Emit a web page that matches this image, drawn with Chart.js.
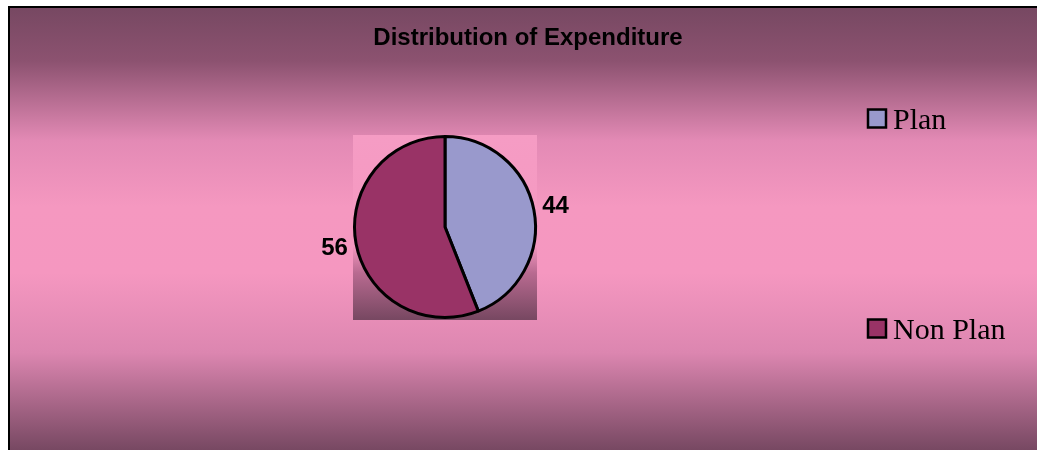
<!DOCTYPE html>
<html><head><meta charset="utf-8">
<script src="https://cdn.jsdelivr.net/npm/chart.js@4"></script>
<style>html,body{margin:0;padding:0;background:#fff;}#wrap{width:1037px;height:450px;position:relative;}</style>
</head><body>
<div id="wrap"><canvas id="c" width="1037" height="450"></canvas></div>
<script>
const categories = ['Plan', 'Non Plan'];
const values = [44, 56];
const colors = ['#9999cc', '#993366'];
const titleText = 'Distribution of Expenditure';

const bgPlugin = {
  id: 'bg',
  beforeDraw(chart) {
    const ctx = chart.ctx;
    const W = chart.width, H = chart.height;
    ctx.save();
    ctx.fillStyle = '#ffffff';
    ctx.fillRect(0, 0, W, H);
    const g = ctx.createLinearGradient(0, 8, 0, H);
    g.addColorStop(0, '#774862');
    g.addColorStop(0.12, '#8c5270');
    g.addColorStop(0.3, '#e38ab5');
    g.addColorStop(0.45, '#f598c0');
    g.addColorStop(0.6, '#f597c0');
    g.addColorStop(0.78, '#dc86b0');
    g.addColorStop(1, '#774862');
    ctx.fillStyle = g;
    ctx.fillRect(10, 8, W - 10, H - 8);
    ctx.fillStyle = '#000';
    ctx.fillRect(8, 6, W - 8, 2);
    ctx.fillRect(8, 6, 2, H - 6);
    // plot area square
    const a = chart.chartArea;
    const pg = ctx.createLinearGradient(0, a.top, 0, a.bottom);
    pg.addColorStop(0, '#f59cc4');
    pg.addColorStop(0.6, '#f598c0');
    pg.addColorStop(0.75, '#b86a90');
    pg.addColorStop(1, '#784862');
    ctx.fillStyle = pg;
    ctx.fillRect(a.left, a.top, a.right - a.left, a.bottom - a.top + 1);
    // title
    ctx.fillStyle = '#000';
    ctx.font = 'bold 24px "Liberation Sans", Arial, sans-serif';
    ctx.textAlign = 'center';
    ctx.textBaseline = 'middle';
    ctx.fillText(titleText, 528, 38);
    // legend
    ctx.font = '30px "Liberation Serif", "Times New Roman", serif';
    ctx.textAlign = 'left';
    ctx.textBaseline = 'alphabetic';
    const ys = [118.5, 328.5];
    categories.forEach((c, i) => {
      ctx.fillStyle = colors[i];
      ctx.fillRect(868, ys[i] - 9, 18, 18);
      ctx.lineWidth = 2.5;
      ctx.strokeStyle = '#000';
      ctx.strokeRect(868, ys[i] - 9, 18, 18);
      ctx.fillStyle = '#000';
      ctx.fillText(c, 893, ys[i] + 10.5);
    });
    ctx.restore();
  },
  afterDatasetsDraw(chart) {
    const ctx = chart.ctx;
    const meta = chart.getDatasetMeta(0);
    ctx.save();
    ctx.fillStyle = '#000';
    ctx.font = 'bold 24px "Liberation Sans", Arial, sans-serif';
    ctx.textAlign = 'center';
    ctx.textBaseline = 'middle';
    meta.data.forEach((arc, i) => {
      const p = arc.getProps(['x', 'y', 'startAngle', 'endAngle', 'outerRadius'], true);
      const mid = (p.startAngle + p.endAngle) / 2;
      const d = p.outerRadius + 22;
      ctx.fillText(String(values[i]), p.x + Math.cos(mid) * d, p.y + Math.sin(mid) * d);
    });
    ctx.restore();
  }
};

new Chart(document.getElementById('c'), {
  type: 'pie',
  data: {
    labels: categories,
    datasets: [{
      data: values,
      backgroundColor: colors,
      borderColor: '#000',
      borderWidth: 3
    }]
  },
  options: {
    responsive: false,
    animation: false,
    layout: { padding: { left: 353, right: 500, top: 135, bottom: 131 } },
    plugins: { legend: { display: false }, title: { display: false }, tooltip: { enabled: false } }
  },
  plugins: [bgPlugin]
});
</script>
</body></html>
